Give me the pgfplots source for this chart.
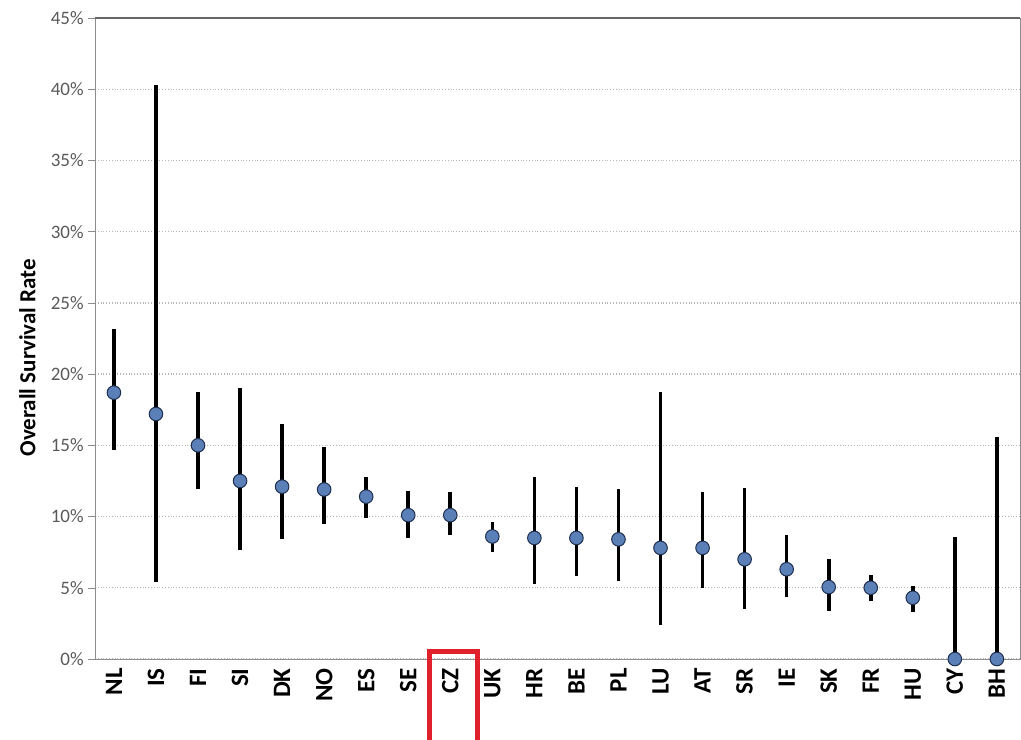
\documentclass[border=0pt]{standalone}
\usepackage{pgfplots}
\usepackage{pgfplotstable}
\pgfplotsset{compat=1.18}
\usepackage{fontspec}
\setmainfont{Carlito}
\definecolor{markfill}{HTML}{5B80B8}
\definecolor{markdraw}{HTML}{1F2F4F}
\definecolor{boxred}{HTML}{E0202A}
\pgfplotstableread{
x   y     ep     em
0   18.7  4.5    4.0
1   17.2  23.1   11.8
2   15.0  3.75   3.1
3   12.5  6.5    4.85
4   12.1  4.4    3.7
5   11.9  3.0    2.4
6   11.4  1.4    1.5
7   10.1  1.7    1.6
8   10.1  1.6    1.4
9   8.6   1.0    1.1
10  8.5   4.3    3.2
11  8.5   3.6    2.7
12  8.4   3.5    2.9
13  7.8   10.95  5.4
14  7.8   3.9    2.8
15  7.0   5.0    3.5
16  6.3   2.4    1.95
17  5.05  1.95   1.65
18  5.0   0.9    0.9
19  4.3   0.8    1.0
20  0     8.6    0
21  0     15.6   0
}\survival
\begin{document}
\begin{tikzpicture}
\path[use as bounding box] (-47.5pt,-40pt) rectangle (463pt,329.5pt);
\begin{axis}[
  at={(0,0)}, anchor=south west,
  scale only axis,
  width=462.5pt, height=320.5pt,
  xmin=-0.45, xmax=21.55,
  ymin=0, ymax=45,
  ytick={0,5,...,45},
  yticklabel={\pgfmathprintnumber{\tick}\%},
  /pgf/number format/assume math mode=true,
  xtick={0,...,21},
  xticklabels={NL,IS,FI,SI,DK,NO,ES,SE,CZ,UK,HR,BE,PL,LU,AT,SR,IE,SK,FR,HU,CY,BH},
  xticklabel style={rotate=90, anchor=east, font=\bfseries\fontsize{12.5}{14}\selectfont, text=black, inner sep=1pt},
  major x tick style={draw=none},
  yticklabel style={font=\fontsize{9.5}{11}\selectfont, text=black!65, inner sep=2pt},
  ytick style={draw=black!45},
  tick align=outside,
  major tick length=3.5pt,
  axis line style={draw=black!45},
  ymajorgrids,
  grid style={densely dotted, draw=black!28, line width=0.7pt},
  ylabel={\bfseries Overall Survival Rate},
  ylabel style={font=\fontsize{11.5}{13}\selectfont, at={(axis description cs:-0.073,0.47)}, anchor=center},
  clip=false,
]
\addplot[
  only marks,
  mark=*,
  mark size=3.4pt,
  mark options={fill=markfill, draw=markdraw, line width=0.5pt},
  error bars/.cd,
    y dir=both, y explicit,
    error mark=none,
    error bar style={line width=1.8pt, black},
] table[x=x, y=y, y error plus=ep, y error minus=em] {\survival};
\draw[black!60, line width=0.8pt] (axis cs:-0.45,45) -- (axis cs:21.55,45);
\draw[boxred, line width=2.5pt] (axis cs:7.5,0.5) rectangle (axis cs:8.65,-7);
\end{axis}
\end{tikzpicture}
\end{document}
